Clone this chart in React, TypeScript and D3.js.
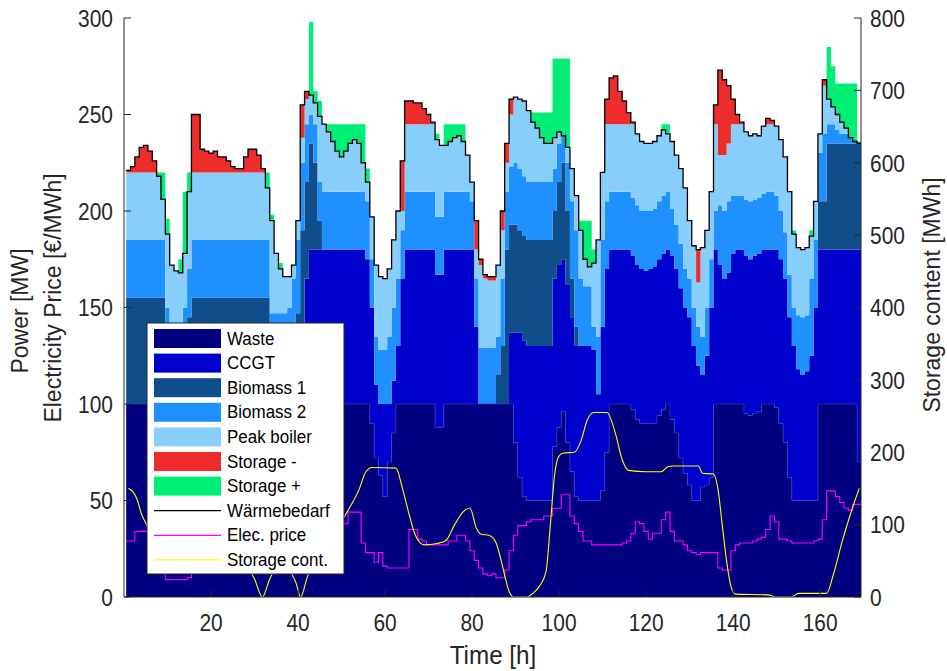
import * as d3 from "d3";

// hourly values, h = 1..169
const hours = d3.range(1, 170);

const waste = [
  100,100,100,100,100,100,100,100,100,100, 100,100,100,100,100,100,100,100,100,100,
  100,100,100,100,100,100,100,100,100,100, 100,100,100,100,100,100,100,100,100,100,
  100,100,100,100,100,100,100,100,100,100, 100,100,100,100,100,100,90,72,63,52,
  70,85,100,100,100,100,100,100,100,100, 100,88,88,100,100,100,100,100,100,100,
  100,100,100,100,100,100,100,100,100,80, 62,52,50,50,50,50,50,50,78,88,
  96,80,65,52,50,50,50,50,50,55, 75,100,100,100,100,100,97,92,90,90,
  90,90,94,97,100,92,85,72,64,58, 50,50,57,58,62,100,100,100,100,100,
  100,100,95,94,95,96,100,100,100,98, 90,80,62,50,50,50,50,50,50,100,
  100,100,100,100,100,100,100,100,70,
];
const ccgt = [
  0,0,0,0,0,0,0,0,0,0, 0,0,0,0,0,0,0,0,0,0,
  0,0,0,0,0,0,0,0,0,0, 0,0,0,0,0,0,0,0,0,20,
  40,65,80,80,80,80,80,80,80,80, 80,80,80,80,80,75,60,38,37,48,
  30,27,30,65,80,80,80,80,80,80, 80,79,79,80,80,80,80,80,80,80,
  40,0,0,0,0,0,0,0,37,57, 75,81,80,80,80,80,80,80,87,84,
  79,82,80,78,80,80,80,78,55,85, 95,80,80,80,80,80,80,80,80,79,
  80,81,81,81,80,85,85,88,86,87, 80,70,58,67,88,80,72,65,68,78,
  80,80,82,81,82,82,80,80,80,82, 85,85,83,80,68,65,67,75,100,80,
  80,80,80,80,80,80,80,80,110,
];
const biomass1 = [
  55,55,55,55,55,55,55,55,55,30, 25,25,25,30,45,55,55,55,55,55,
  55,55,55,55,55,55,55,55,55,55, 55,55,55,25,25,25,25,25,30,27,
  50,50,55,45,15,0,0,0,0,0, 0,0,0,0,0,0,0,0,0,0,
  0,0,0,0,0,0,0,0,0,0, 0,0,0,0,0,0,0,0,0,0,
  0,0,0,0,0,15,30,80,56,56, 53,54,55,55,55,55,55,55,35,43,
  50,38,20,10,0,0,0,0,0,0, 0,0,0,0,0,0,0,0,0,0,
  0,0,0,0,0,0,0,0,0,0, 0,0,0,0,0,0,0,0,0,0,
  0,0,0,0,0,0,0,0,0,0, 0,0,0,0,0,0,0,0,0,25,
  25,55,55,55,55,55,55,55,55,
];
const biomass2 = [
  30,30,30,30,30,30,30,30,30,20, 15,15,15,20,25,30,30,30,30,30,
  30,30,30,30,30,30,30,30,30,30, 30,30,30,22,22,22,22,25,35,38,
  35,30,15,20,20,30,30,30,30,30, 30,30,30,30,30,30,25,25,28,28,
  35,38,35,25,30,30,30,30,30,30, 30,30,30,30,30,30,30,30,30,25,
  25,29,29,29,29,20,35,30,30,32, 32,31,30,30,30,30,30,30,22,20,
  14,25,40,50,35,31,31,12,30,45, 35,30,30,30,30,30,30,31,30,31,
  30,30,30,30,30,24,23,23,20,20, 20,20,20,25,25,20,31,35,37,30,
  28,28,29,30,29,29,29,30,30,28, 25,24,22,20,28,30,29,40,35,25,
  35,10,10,7,5,5,3,1,0,
];
const peakBoiler = [
  35,35,35,35,35,35,35,33,21,38, 32,29,28,28,40,35,35,35,35,35,
  35,35,35,35,35,35,35,35,35,35, 35,35,27,48,31,23,19,16,7,10,
  13,13,10,11,34,35,31,26,21,18, 21,25,27,25,15,10,22,37,38,37,
  35,35,35,10,35,35,35,35,35,35, 35,40,37,24,26,28,29,26,19,10,
  15,43,36,35,35,37,25,15,27,34, 36,39,37,31,28,23,20,20,16,6,
  0,8,17,18,25,14,10,33,50,35, 40,35,35,35,35,35,38,37,36,35,
  35,35,34,34,30,35,36,39,42,30, 32,23,46,40,35,45,26,29,30,37,
  37,37,35,34,34,32,35,35,35,36, 37,39,43,38,35,35,35,22,20,10,
  25,13,9,8,6,3,0,0,0,
];
const storageMinus = [
  1,3,8,13,14,11,6,0,0,0, 0,0,0,0,0,30,30,12,11,10,
  11,8,8,6,3,2,2,8,12,12, 9,2,0,0,0,0,0,0,0,0,
  17,4,0,0,0,0,0,0,0,0, 0,0,0,0,0,0,0,0,0,0,
  0,0,0,26,12,12,11,11,8,5, 1,0,0,0,0,0,0,0,0,0,
  15,3,2,2,2,0,10,10,8,0, 0,0,0,0,0,0,0,0,0,0,
  0,0,0,0,0,0,0,0,0,0, 13,24,25,17,12,6,1,0,0,0,
  0,0,0,0,0,0,0,0,0,0, 0,17,0,0,0,10,44,39,30,13,
  5,1,0,0,0,0,0,3,2,0, 0,0,0,0,0,0,0,0,0,0,
  3,0,0,0,0,0,0,0,0,
];
const storagePlus = [
  0,0,0,0,0,0,0,2,14,8, 0,0,7,32,10,0,0,0,0,0,
  0,0,0,0,0,0,0,0,0,0, 0,0,8,3,0,3,0,0,0,0,
  0,0,38,6,8,0,4,9,14,17, 14,10,8,10,20,7,0,0,0,0,
  0,0,0,0,0,0,0,0,0,0, 0,3,0,11,9,7,6,9,0,0,
  0,0,0,0,0,0,0,0,0,0, 0,0,0,5,8,13,16,16,41,38,
  40,46,0,0,5,20,24,7,0,0, 0,0,0,0,0,0,0,0,0,0,
  0,0,0,3,5,0,0,0,0,0, 0,0,0,0,0,0,0,0,0,0,
  0,0,0,0,0,0,0,0,0,0, 0,0,0,2,0,0,0,3,0,0,
  0,27,21,16,20,23,28,30,1,
];
const demand = [
  221,223,228,233,234,231,226,218,206,188, 172,169,168,178,210,250,250,232,231,230,
  231,228,228,226,223,222,222,228,232,232, 229,222,212,195,178,170,166,166,172,195,
  255,262,260,256,249,245,241,236,231,228, 231,235,237,235,225,215,197,172,166,165,
  170,185,200,226,257,257,256,256,253,250, 246,237,234,234,236,238,239,236,229,215,
  195,175,167,166,166,172,200,235,258,259, 258,257,252,246,243,238,235,235,238,241,
  239,233,222,208,190,175,171,173,185,220, 258,269,270,262,257,251,246,240,236,235,
  235,236,239,242,240,236,229,222,212,195, 182,180,181,190,210,255,273,268,265,258,
  250,246,241,239,240,239,244,248,247,244, 237,228,210,188,181,180,181,187,205,240,
  268,258,254,250,246,243,238,236,235,
];
const elecPrice = [
  29,29,34,34,34,30,26,20,14,9, 9,9,9,9,10,14,20,25,27,28,
  28,27,26,25,24,22,22,24,26,28, 27,25,22,20,18,16,15,18,22,28,
  32,34,35,35,36,37,38,38,37,38, 38,44,44,44,28,23,23,18,23,16,
  15,15,15,15,15,35,35,30,29,27, 27,27,27,27,29,29,32,32,29,24,
  19,15,12,11,12,10,10,14,24,32, 37,37,39,40,40,40,42,42,46,46,
  53,53,42,38,34,29,29,27,27,27, 27,27,27,27,28,29,33,39,38,34,
  30,33,33,40,44,34,29,29,27,24, 23,22,23,23,23,23,15,14,14,24,
  27,28,28,28,29,30,31,35,42,39, 30,30,29,28,28,28,28,28,29,30,
  40,55,55,52,49,46,45,48,48,
];
// storage content [MWh] (right axis)
const storageHours = [
  1,2,3,4,5,8,12,16,20,24,27,30,31.8,33.5,35.5,37.5,39.5,40.6,42,44,47,50,52,54,55.5,57,
  62.5,64,65.5,67,69,72,74,76,78,79.5,81,82,84,85.5,86.5,87.5,88.5,89.5,92.5,94,95.5,97,
  98,99,100,101,103.5,105,106.5,108,111,113,114.5,116,120,123.5,125,126,132,133,135.5,
  136.5,137.5,138.5,139.5,140.5,148,150,153.5,155,161.5,163,165,167,169,
];
const storageContent = [
  150,146,135,115,102,70,55,60,70,65,50,25,0,25,45,40,20,0,25,60,85,105,125,148,172,179,
  178,150,115,85,72,74,78,100,118,123,95,87,85,75,55,30,8,0,0,5,15,35,
  100,170,195,199,200,215,245,255,255,225,190,175,173,173,180,181,181,171,170,
  150,100,50,15,4,3,0,0,5,5,30,75,115,150,
];

const layers = [
  { key: "Waste", values: waste, color: "#000080" },
  { key: "CCGT", values: ccgt, color: "#0000CD" },
  { key: "Biomass 1", values: biomass1, color: "#104E8B" },
  { key: "Biomass 2", values: biomass2, color: "#1E90FF" },
  { key: "Peak boiler", values: peakBoiler, color: "#87CEFA" },
  { key: "Storage -", values: storageMinus, color: "#EE2C2C" },
  { key: "Storage +", values: storagePlus, color: "#00EE76" },
];

const xTicks = [20, 40, 60, 80, 100, 120, 140, 160];
const yLeftTicks = [0, 50, 100, 150, 200, 250, 300];
const yRightTicks = [0, 100, 200, 300, 400, 500, 600, 700, 800];

const W = 947, H = 671;
const m = { left: 124, right: 861, top: 18, bottom: 597 };
const font = "'Liberation Sans', Arial, Helvetica, sans-serif";
const axisCol = "#262626";

// narrow text, the reference glyphs are a bit condensed
function T(props: { x: number; y: number; size: number; sx?: number; anchor?: string; fill?: string; children: any }) {
  const { x, y, size, sx = 0.91, anchor = "start", fill = axisCol, children } = props;
  return (
    <g transform={`translate(${x},${y}) scale(${sx},1)`}>
      <text fontSize={size} textAnchor={anchor} dominantBaseline="central" fill={fill}>
        {children}
      </text>
    </g>
  );
}

export default function App() {
  const x = d3.scaleLinear().domain([0, 169.4]).range([m.left, m.right]);
  const yL = d3.scaleLinear().domain([0, 300]).range([m.bottom, m.top]);
  const yR = d3.scaleLinear().domain([0, 800]).range([m.bottom, m.top]);
  const hx = (h: number) => x(Math.max(0, h - 0.5));

  const rows = hours.map((h, i) => {
    const r: any = { h };
    layers.forEach((l) => (r[l.key] = l.values[i]));
    return r;
  });
  // extra closing step so the last hour has a width
  const rowsExt = [...rows, { ...rows[rows.length - 1], h: rows[rows.length - 1].h + 1 }];
  const stacked = d3.stack().keys(layers.map((l) => l.key))(rowsExt as any);

  const area = d3
    .area<any>()
    .x((d) => hx(d.data.h))
    .y0((d) => yL(d[0]))
    .y1((d) => yL(d[1]))
    .curve(d3.curveStepAfter);

  const wasteEdge = d3
    .line<any>()
    .x((d) => hx(d.data.h))
    .y((d) => yL(d[1]))
    .curve(d3.curveStepAfter)(stacked[0] as any);

  const stepLine = (vals: number[], y: any) => {
    const pts = [...vals.map((v, i) => [hours[i], v]), [hours[hours.length - 1] + 1, vals[vals.length - 1]]];
    return d3
      .line<number[]>()
      .x((d) => hx(d[0]))
      .y((d) => y(d[1]))
      .curve(d3.curveStepAfter)(pts as any);
  };

  const storLine = d3
    .line<number>()
    .x((_, i) => x(storageHours[i]))
    .y((d) => yR(d))
    .curve(d3.curveMonotoneX)(storageContent);

  const legendItems = [
    ...layers.map((l) => ({ name: l.key, color: l.color, kind: "box" })),
    { name: "Wärmebedarf", color: "#000000", kind: "line" },
    { name: "Elec. price", color: "#FF00FF", kind: "line" },
    { name: "Storage cont.", color: "#FFFF00", kind: "line" },
  ];
  const lg = { x: 147, y: 323, w: 197, h: 251, row: 24.6 };

  return (
    <svg width={W} height={H} style={{ position: "absolute", left: 0, top: 0, display: "block" }} fontFamily={font}>
      <rect width={W} height={H} fill="#ffffff" />
      <defs>
        <clipPath id="plot">
          <rect x={m.left} y={m.top} width={m.right - m.left} height={m.bottom - m.top} />
        </clipPath>
      </defs>
      <g clipPath="url(#plot)">
        {stacked.map((s, i) => (
          <path key={s.key} d={area(s as any) || ""} fill={layers[i].color} />
        ))}
        <path d={wasteEdge || ""} fill="none" stroke="#3347c4" strokeWidth={0.6} />
        <path d={stepLine(demand, yL) || ""} fill="none" stroke="#000" strokeWidth={1.3} />
        <path d={stepLine(elecPrice, yL) || ""} fill="none" stroke="#FF00FF" strokeWidth={1.1} />
        <path d={storLine || ""} fill="none" stroke="#FFFF00" strokeWidth={1.1} />
      </g>

      {/* axes */}
      <g stroke={axisCol} strokeWidth={1} fill="none">
        <line x1={m.left} x2={m.left} y1={m.top} y2={m.bottom} />
        <line x1={m.right} x2={m.right} y1={m.top} y2={m.bottom} />
        <line x1={m.left} x2={m.right} y1={m.bottom} y2={m.bottom} />
        {yLeftTicks.map((t) => (
          <line key={"l" + t} x1={m.left} x2={m.left + 7} y1={yL(t)} y2={yL(t)} />
        ))}
        {yRightTicks.map((t) => (
          <line key={"r" + t} x1={m.right} x2={m.right - 7} y1={yR(t)} y2={yR(t)} />
        ))}
        {xTicks.map((t) => (
          <line key={"x" + t} x1={x(t)} x2={x(t)} y1={m.bottom} y2={m.bottom - 7} />
        ))}
      </g>
      {yLeftTicks.map((t) => (
        <T key={"lt" + t} x={113} y={yL(t) + 1} size={23} anchor="end">{t}</T>
      ))}
      {yRightTicks.map((t) => (
        <T key={"rt" + t} x={870} y={yR(t) + 1} size={23}>{t}</T>
      ))}
      {xTicks.map((t) => (
        <T key={"xt" + t} x={x(t)} y={623} size={23} anchor="middle">{t}</T>
      ))}
      <T x={493} y={655} size={25} sx={0.97} anchor="middle">Time [h]</T>
      <g fill={axisCol} fontSize={23} textAnchor="middle">
        <text transform={`translate(20,311) rotate(-90)`} dominantBaseline="central">Power [MW]</text>
        <text transform={`translate(53,298) rotate(-90)`} dominantBaseline="central">
          Electricity Price [€/MWh]
        </text>
        <text transform={`translate(932,295) rotate(-90)`} dominantBaseline="central">
          Storage content [MWh]
        </text>
      </g>

      {/* legend */}
      <g>
        <rect x={lg.x} y={lg.y} width={lg.w} height={lg.h} fill="#ffffff" stroke={axisCol} strokeWidth={1} />
        {legendItems.map((it, i) => {
          const cy = lg.y + 15.5 + i * lg.row;
          return (
            <g key={it.name}>
              {it.kind === "box" ? (
                <rect x={154} y={cy - 9.5} width={67} height={19} fill={it.color} />
              ) : (
                <line x1={154} x2={221} y1={cy} y2={cy} stroke={it.color} strokeWidth={1.2} />
              )}
              <T x={227} y={cy} size={17.5} sx={0.97} fill="#000">{it.name}</T>
            </g>
          );
        })}
      </g>
    </svg>
  );
}
